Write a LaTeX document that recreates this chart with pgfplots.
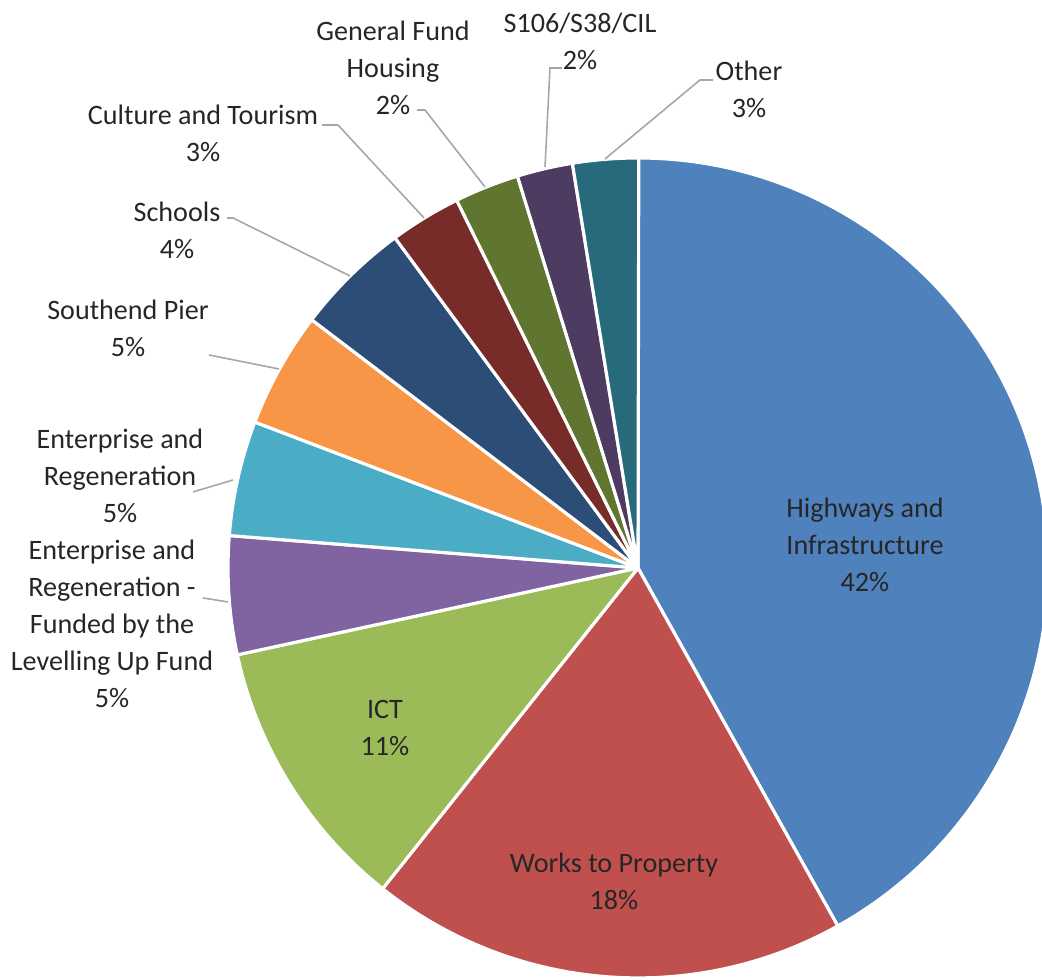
\documentclass[border=0pt]{standalone}
\usepackage{fontspec}
\setmainfont{Carlito}
\usepackage{pgfplots}
\usepackage{pgfplotstable}
\pgfplotsset{compat=1.18}

\definecolor{hwy}{HTML}{4F81BD}
\definecolor{works}{HTML}{C0504D}
\definecolor{ict}{HTML}{9BBB59}
\definecolor{luf}{HTML}{8064A2}
\definecolor{regen}{HTML}{4BACC6}
\definecolor{pier}{HTML}{F79646}
\definecolor{schools}{HTML}{2C4D75}
\definecolor{culture}{HTML}{772C2A}
\definecolor{gfh}{HTML}{5F7530}
\definecolor{sone}{HTML}{4D3B62}
\definecolor{other}{HTML}{276A7C}
\definecolor{leader}{HTML}{A6A6A6}

% share of the capital programme (percent), clockwise from the top
\pgfplotstableread{
value color
41.9 hwy
18.8 works
10.9 ict
4.66 luf
4.53 regen
4.56 pier
4.55 schools
2.81 culture
2.54 gfh
2.19 sone
2.59 other
}\piedata

\begin{document}
\begin{tikzpicture}
\begin{axis}[
  scale only axis,
  width=10.42cm, height=9.8cm,
  xmin=0, xmax=1042, ymin=0, ymax=980,
  hide axis,
]
\pgfplotstablegetrowsof{\piedata}
\pgfmathtruncatemacro\nrows{\pgfplotsretval-1}
\def\angacc{90}
\pgfplotsforeachungrouped \i in {0,...,\nrows}{%
  \pgfplotstablegetelem{\i}{value}\of\piedata \let\val\pgfplotsretval
  \pgfplotstablegetelem{\i}{color}\of\piedata \let\col\pgfplotsretval
  \pgfmathsetmacro\angend{\angacc-3.6*\val}%
  \edef\cmd{\noexpand\fill[\col, draw=white, line width=0.9pt, line join=round]
    (axis cs:638,412) -- (axis cs:{638+410*cos(\angacc)},{412+410*sin(\angacc)})
    arc[start angle=\angacc, end angle=\angend, radius=4.1cm] -- cycle;}%
  \cmd
  \global\let\angacc\angend
}

% leader lines
\draw[leader, line width=0.45pt] (axis cs:322,855) -- (axis cs:338,855) -- (axis cs:424,762);
\draw[leader, line width=0.45pt] (axis cs:417,870) -- (axis cs:425,870) -- (axis cs:485,793);
\draw[leader, line width=0.45pt] (axis cs:227,762) -- (axis cs:233,762) -- (axis cs:350,704);
\draw[leader, line width=0.45pt] (axis cs:209,625) -- (axis cs:279,611);
\draw[leader, line width=0.45pt] (axis cs:193,488) -- (axis cs:233,500);
\draw[leader, line width=0.45pt] (axis cs:203,382) -- (axis cs:228,378);
\draw[leader, line width=0.45pt] (axis cs:562,912) -- (axis cs:550,912) -- (axis cs:545,813);
\draw[leader, line width=0.45pt] (axis cs:713,900) -- (axis cs:700,900) -- (axis cs:605,821);

% data labels
\tikzset{lab/.style={align=center, font=\fontsize{8}{10.5}\selectfont, text=black!85, inner sep=0pt}}
\node[lab] at (axis cs:865,435) {Highways and\\Infrastructure\\42\%};
\node[lab] at (axis cs:614,99) {Works to Property\\18\%};
\node[lab] at (axis cs:385,252) {ICT\\11\%};
\node[lab] at (axis cs:112,356) {Enterprise and\\Regeneration -\\Funded by the\\Levelling Up Fund\\5\%};
\node[lab] at (axis cs:120,504) {Enterprise and\\Regeneration\\5\%};
\node[lab] at (axis cs:128,652) {Southend Pier\\5\%};
\node[lab] at (axis cs:177,750) {Schools\\4\%};
\node[lab] at (axis cs:203,847) {Culture and Tourism\\3\%};
\node[lab] at (axis cs:393,912) {General Fund\\Housing\\2\%};
\node[lab] at (axis cs:580,939) {S106/S38/CIL\\2\%};
\node[lab] at (axis cs:749,891) {Other\\3\%};
\end{axis}
\pgfresetboundingbox
\useasboundingbox (current axis.south west) rectangle (current axis.north east);
\end{tikzpicture}
\end{document}
